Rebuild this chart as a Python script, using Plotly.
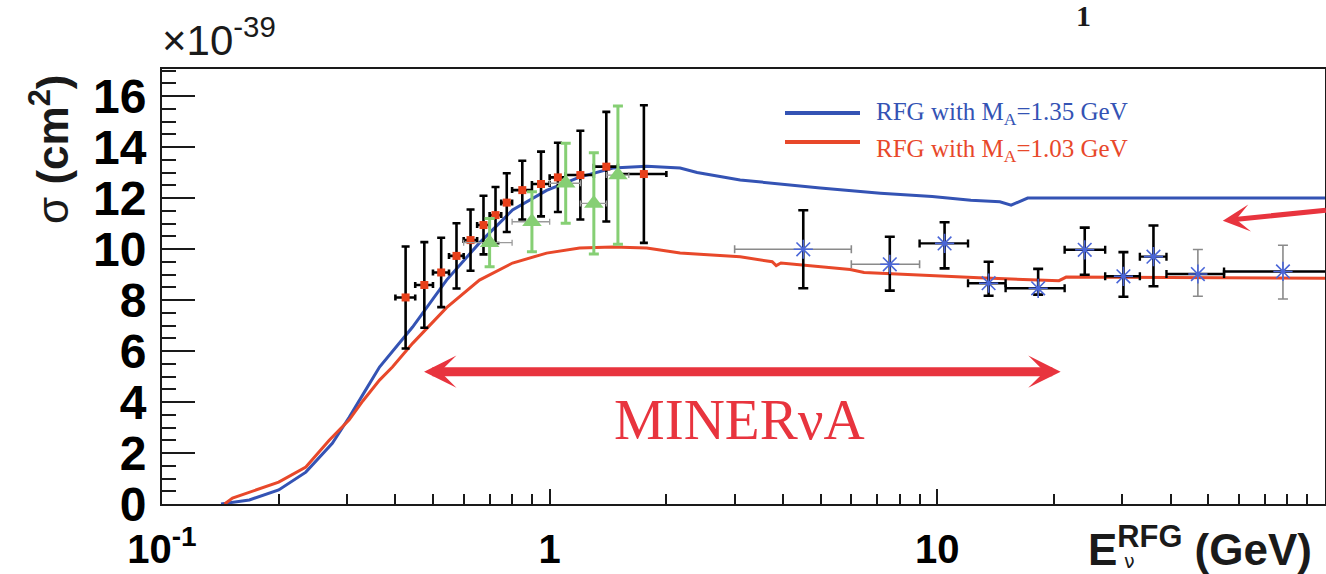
import math
import plotly.graph_objects as go

# ---------------- data ----------------
# RFG theory curves (sigma in 1e-39 cm^2)
blue_E = [0.142, 0.168, 0.2, 0.235, 0.275, 0.304, 0.33, 0.364, 0.443, 0.542, 0.659, 0.802,
          0.982, 1.195, 1.455, 1.78, 2.17, 2.4, 3.1, 4.99, 7.13, 9.7, 12.2, 14.5, 15.5,
          16.2, 17.1, 30, 50, 100]
blue_sigma = [0.0, 0.16, 0.55, 1.25, 2.38, 3.4, 4.3, 5.37, 6.94, 8.78, 10.24, 11.53,
              12.3, 12.82, 13.18, 13.25, 13.18, 13.0, 12.71, 12.39, 12.19, 12.06, 11.91, 11.85, 11.72,
              11.85, 12.0, 12.0, 12.0, 12.0]

red_E = [0.145, 0.152, 0.2, 0.235, 0.27, 0.304, 0.33, 0.364, 0.393, 0.443, 0.542, 0.659,
         0.802, 0.982, 1.195, 1.455, 1.78, 2.17, 2.44, 3.1, 3.75, 3.84, 3.95, 4.99, 5.96,
         6.47, 9.04, 12.8, 20.6, 21.5, 100]
red_sigma = [0.0, 0.23, 0.86, 1.45, 2.5, 3.3, 4.05, 4.86, 5.37, 6.3, 7.7, 8.78,
             9.45, 9.84, 10.04, 10.08, 10.04, 9.84, 9.79, 9.70, 9.5, 9.35, 9.45, 9.31, 9.2,
             9.08, 8.98, 8.87, 8.76, 8.9, 8.85]

# low-energy data (black bars, red squares)
mb_E = [0.425, 0.475, 0.525, 0.575, 0.625, 0.675, 0.725, 0.775, 0.85, 0.95, 1.05, 1.2, 1.4, 1.75]
mb_E_lo = [0.40, 0.45, 0.50, 0.55, 0.60, 0.65, 0.70, 0.75, 0.80, 0.90, 1.00, 1.10, 1.30, 1.50]
mb_E_hi = [0.45, 0.50, 0.55, 0.60, 0.65, 0.70, 0.75, 0.80, 0.90, 1.00, 1.10, 1.30, 1.50, 2.00]
mb_sigma = [8.1, 8.59, 9.08, 9.73, 10.35, 10.94, 11.33, 11.82, 12.31, 12.55, 12.81, 12.9, 13.23, 12.94]
mb_err = [2.0, 1.68, 1.36, 1.28, 1.2, 1.15, 1.1, 1.15, 1.15, 1.27, 1.36, 1.74, 2.15, 2.7]

# green triangles
gr_E = [0.7, 0.9, 1.1, 1.3, 1.5]
gr_E_lo = [0.6, 0.8, 1.0, 1.2, 1.4]
gr_E_hi = [0.8, 1.0, 1.2, 1.4, 1.6]
gr_sigma = [10.25, 11.07, 12.58, 11.79, 12.9]
gr_err = [0.95, 1.18, 1.57, 1.99, 2.71]

# high-energy data (blue stars)
st_E = [4.51, 7.54, 10.44, 13.56, 18.2, 24.0, 30.2, 36.1, 47.0, 77.9]
st_E_lo = [3.0, 6.0, 9.0, 12.0, 15.0, 21.3, 27.1, 33.3, 39.0, 54.9]
st_E_hi = [6.0, 9.0, 12.0, 15.0, 21.3, 27.1, 33.3, 39.0, 54.9, 130.0]
st_sigma = [9.99, 9.40, 10.22, 8.66, 8.46, 9.97, 8.93, 9.70, 9.02, 9.12]
st_err_up = [1.53, 1.08, 0.83, 0.84, 0.76, 0.87, 0.95, 1.22, 0.96, 1.03]
st_err_dn = [1.53, 1.03, 0.98, 0.49, 0.25, 0.98, 0.80, 1.16, 0.87, 1.08]

x_tickvals = [0.1, 1, 10]
x_ticktext = ["10<sup>-1</sup>", "1", "10"]
x_minor = [m * d for d in (0.1, 1, 10) for m in range(2, 10)]
y_tickvals = [0, 2, 4, 6, 8, 10, 12, 14, 16]

legend_labels = ["RFG with M<sub>A</sub>=1.35 GeV", "RFG with M<sub>A</sub>=1.03 GeV"]

BLUE = "#3453b4"
RED = "#e8482a"
ARROW_RED = "#e8343e"
GREEN = "#86cf74"
STAR = "#4a66d8"

# ---------------- figure geometry ----------------
W, H = 1326, 574
L, R, T, B = 162, 1, 69, 70
PW, PH = W - L - R, H - T - B


def px_x(p):
    return (p - L) / PW


def px_y(p):
    return (H - B - p) / PH


fig = go.Figure()

fig.add_trace(go.Scatter(x=blue_E, y=blue_sigma, mode="lines", name=legend_labels[0],
                         line=dict(color=BLUE, width=3)))
fig.add_trace(go.Scatter(x=red_E, y=red_sigma, mode="lines", name=legend_labels[1],
                         line=dict(color=RED, width=3)))

fig.add_trace(go.Scatter(
    x=mb_E, y=mb_sigma, mode="markers", name="data (low E)",
    marker=dict(symbol="square", size=8, color="#e8401a", line=dict(width=0)),
    error_y=dict(type="data", array=mb_err, color="black", thickness=2.6, width=4),
    error_x=dict(type="data", array=[h - e for h, e in zip(mb_E_hi, mb_E)],
                 arrayminus=[e - l for e, l in zip(mb_E, mb_E_lo)],
                 color="black", thickness=2.6, width=3)))

fig.add_trace(go.Scatter(
    x=gr_E, y=gr_sigma, mode="markers", name="data (green)",
    marker=dict(symbol="triangle-up", size=17, color=GREEN, line=dict(width=0)),
    error_y=dict(type="data", array=gr_err, color=GREEN, thickness=3, width=5),
    error_x=dict(type="data", array=[h - e for h, e in zip(gr_E_hi, gr_E)],
                 arrayminus=[e - l for e, l in zip(gr_E, gr_E_lo)],
                 color="#9a9a9a", thickness=1.3, width=3)))

groups = [([0, 1], "black", 2.6, "#8a8a8a", 1.6),
          ([2, 3, 4, 5, 6, 7], "black", 2.6, "black", 2.4),
          ([8, 9], "#8a8a8a", 1.6, "black", 2.4)]
for idx, vcol, vth, hcol, hth in groups:
    fig.add_trace(go.Scatter(
        x=[st_E[i] for i in idx], y=[st_sigma[i] for i in idx], mode="markers",
        name="data (high E)",
        marker=dict(symbol="asterisk-open", size=16, color=STAR,
                    line=dict(color=STAR, width=1.6)),
        error_y=dict(type="data", array=[st_err_up[i] for i in idx],
                     arrayminus=[st_err_dn[i] for i in idx], color=vcol, thickness=vth, width=5),
        error_x=dict(type="data", array=[st_E_hi[i] - st_E[i] for i in idx],
                     arrayminus=[st_E[i] - st_E_lo[i] for i in idx],
                     color=hcol, thickness=hth, width=4)))

fig.update_xaxes(
    type="log", range=[-1, 2], showgrid=False, zeroline=False, automargin=False,
    showline=True, linecolor="#1a1a1a", linewidth=2, mirror=True,
    tickmode="array", tickvals=x_tickvals, ticktext=x_ticktext,
    ticks="inside", ticklen=15, tickwidth=2, tickcolor="#1a1a1a",
    tickfont=dict(family="Liberation Sans", size=40, color="black", weight="bold"),
    ticklabelstandoff=9,
    minor=dict(tickvals=x_minor, ticks="inside", ticklen=10, tickwidth=1.6, tickcolor="#1a1a1a"),
)
fig.update_yaxes(
    range=[0, 17.06], showgrid=False, zeroline=False, automargin=False,
    showline=True, linecolor="#1a1a1a", linewidth=2, mirror=True,
    tickmode="array", tickvals=y_tickvals,
    ticks="inside", ticklen=33, tickwidth=2, tickcolor="#1a1a1a",
    tickfont=dict(family="Liberation Sans", size=48, color="black", weight="bold"),
    ticklabelstandoff=4,
    minor=dict(dtick=0.5, ticks="inside", ticklen=14, tickwidth=1.6, tickcolor="#1a1a1a"),
)

ann = []
# exponent label
ann.append(dict(xref="paper", yref="paper", x=px_x(160), y=px_y(66), xanchor="left", yanchor="bottom",
                text="×10<sup>-39</sup>", showarrow=False,
                font=dict(family="Liberation Sans", size=42, color="#1a1a1a")))
# y-axis title
ann.append(dict(xref="paper", yref="paper", x=px_x(49), y=px_y(150), xanchor="center", yanchor="middle",
                textangle=-90, text="σ <b>(cm<sup>2</sup>)</b>", showarrow=False,
                font=dict(family="Liberation Sans", size=44, color="#1a1a1a")))
# x-axis title
ann.append(dict(xref="paper", yref="paper", x=px_x(1086), y=px_y(546), xanchor="left", yanchor="middle",
                text="<b>E<sup>RFG</sup> (GeV)</b>", showarrow=False,
                font=dict(family="Liberation Sans", size=44, color="#1a1a1a")))
ann.append(dict(xref="paper", yref="paper", x=px_x(1129), y=px_y(561), xanchor="center", yanchor="middle",
                text="ν", showarrow=False, borderpad=0,
                font=dict(family="DejaVu Sans", size=19, color="#1a1a1a")))
# legend
ann.append(dict(xref="paper", yref="paper", x=px_x(874), y=px_y(113), xanchor="left", yanchor="middle",
                text=legend_labels[0], showarrow=False,
                font=dict(family="Liberation Serif", size=25, color=BLUE)))
ann.append(dict(xref="paper", yref="paper", x=px_x(874), y=px_y(150), xanchor="left", yanchor="middle",
                text=legend_labels[1], showarrow=False,
                font=dict(family="Liberation Serif", size=25, color=RED)))
# MINERvA label
ann.append(dict(xref="x", yref="y", x=math.log10(3.08), y=3.3, xanchor="center", yanchor="middle",
                text="MINERνA", showarrow=False,
                font=dict(family="Liberation Serif", size=57, color=ARROW_RED)))
# double arrow (MINERvA range)
ann.append(dict(xref="x", yref="y", axref="x", ayref="y",
                x=math.log10(20.8), y=5.19, ax=math.log10(0.47), ay=5.19, text="",
                showarrow=True, arrowside="end+start", arrowhead=3, startarrowhead=3,
                arrowsize=0.6, startarrowsize=0.6, arrowwidth=9, arrowcolor=ARROW_RED))
# right arrow
ann.append(dict(xref="x", yref="y", axref="x", ayref="y",
                x=math.log10(54.5), y=11.11, ax=2.006, ay=11.53, text="",
                showarrow=True, arrowhead=3, arrowsize=0.9, arrowwidth=5, arrowcolor=ARROW_RED))
# clipped title fragment at top
ann.append(dict(xref="paper", yref="paper", x=px_x(1083), y=px_y(16), xanchor="center", yanchor="middle",
                text="<b>1</b>", showarrow=False,
                font=dict(family="Liberation Serif", size=30, color="#1a1a1a")))

shapes = [
    dict(type="line", xref="paper", yref="paper", x0=px_x(785), x1=px_x(860), y0=px_y(113), y1=px_y(113),
         line=dict(color=BLUE, width=4)),
    dict(type="line", xref="paper", yref="paper", x0=px_x(785), x1=px_x(860), y0=px_y(142), y1=px_y(142),
         line=dict(color=RED, width=4)),
]

fig.update_layout(
    width=W, height=H, margin=dict(l=L, r=R, t=T, b=B, pad=0, autoexpand=False),
    plot_bgcolor="white", paper_bgcolor="white", showlegend=False,
    annotations=ann, shapes=shapes,
)

fig.write_html("out.html", config={"displayModeBar": False},
               post_script="document.body.style.margin='0';document.body.style.overflow='hidden';")
